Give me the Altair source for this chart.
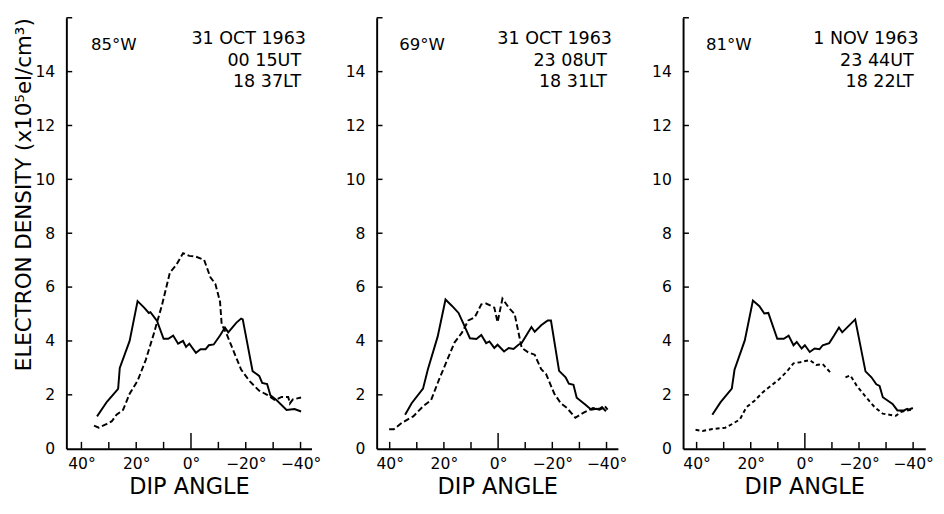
import altair as alt
import pandas as pd

# ---------------- data ----------------
# Panel 1: 85°W, 31 OCT 1963
P1_SOLID_ANGLE = [34.3, 30.7, 26.6, 26.0, 22.4, 19.5, 17.1, 15.4, 14.8, 12.4, 10.0, 8.3, 6.5, 4.7, 2.9, 1.8, 0.6, -1.8, -3.5, -5.3,
                  -6.5, -8.3, -10.6, -12.4, -13.6, -16.6, -18.3, -18.9, -22.5, -24.9, -26.0, -27.8, -29.0, -31.3, -34.9, -37.8, -40.2]
P1_SOLID_DENS = [1.2, 1.74, 2.22, 3.0, 4.0, 5.48, 5.24, 5.04, 5.07, 4.74, 4.08, 4.08, 4.2, 3.9, 4.0, 3.78, 3.9, 3.56, 3.69, 3.69,
                 3.84, 3.87, 4.2, 4.5, 4.32, 4.68, 4.83, 4.8, 2.88, 2.7, 2.44, 2.4, 1.98, 1.8, 1.44, 1.47, 1.38]
P1_DASH_ANGLE = [35.4, 33.7, 30.7, 28.9, 27.2, 24.8, 22.4, 19.5, 16.5, 13.6, 10.6, 7.7, 5.3, 2.9, 0.6, -1.8, -4.8, -7.1, -8.9, -10.6,
                 -11.2, -13.0, -15.4, -18.3, -21.3, -24.8, -27.8, -30.7, -33.1, -35.5, -36.1, -37.2, -40.2]
P1_DASH_DENS = [0.86, 0.78, 0.92, 1.02, 1.26, 1.44, 2.04, 2.52, 3.3, 4.26, 5.33, 6.54, 6.83, 7.26, 7.16, 7.13, 7.01, 6.36, 6.12, 5.46,
                4.62, 4.26, 3.66, 2.94, 2.52, 2.16, 2.0, 1.8, 1.92, 1.92, 1.68, 1.83, 1.9]
P1_DASH_SEG = [0] * 33

# Panel 2: 69°W, 31 OCT 1963
P2_SOLID_ANGLE = [34.3, 31.9, 27.7, 25.9, 22.3, 19.4, 17.0, 14.6, 12.8, 10.4, 8.0, 6.2, 4.4, 3.2, 1.4, 0.2, -2.2, -3.9, -5.7, -7.5,
                  -8.7, -10.5, -12.3, -13.5, -15.9, -18.3, -19.5, -22.5, -24.9, -26.1, -27.8, -29.0, -32.0, -34.4, -36.2, -37.4, -38.6, -39.8]
P2_SOLID_DENS = [1.26, 1.69, 2.23, 2.95, 4.16, 5.54, 5.3, 5.04, 4.64, 4.1, 4.07, 4.22, 3.92, 3.98, 3.74, 3.86, 3.61, 3.74, 3.7, 3.86,
                 3.92, 4.22, 4.52, 4.34, 4.58, 4.76, 4.76, 2.89, 2.65, 2.41, 2.37, 1.89, 1.65, 1.45, 1.48, 1.45, 1.51, 1.39]
P2_DASH_ANGLE = [40.2, 38.5, 35.5, 31.3, 27.7, 24.7, 21.7, 18.7, 16.1, 13.4, 11.0, 8.6, 6.2, 4.4, 1.4, 0.2, -1.6, -3.9, -6.1, -8.7,
                 -11.1, -13.5, -15.9, -17.7, -20.7, -23.1, -25.4, -28.5, -31.4, -35.0, -37.4, -39.2, -40.4]
P2_DASH_DENS = [0.72, 0.72, 0.96, 1.2, 1.57, 1.81, 2.59, 3.31, 3.94, 4.3, 4.76, 4.88, 5.36, 5.39, 5.24, 4.7, 5.57, 5.24, 5.0, 3.74,
                3.58, 3.49, 2.95, 2.77, 2.05, 1.69, 1.51, 1.15, 1.33, 1.51, 1.48, 1.6, 1.45]
P2_DASH_SEG = [0] * 33

# Panel 3: 81°W, 1 NOV 1963
P3_SOLID_ANGLE = [34.2, 31.2, 27.0, 26.0, 22.2, 19.2, 16.8, 15.0, 13.5, 10.2, 7.8, 6.0, 4.2, 3.0, 1.2, 0.0, -1.8, -3.6, -5.4, -6.6,
                  -9.0, -10.8, -12.6, -13.8, -16.2, -18.6, -22.4, -24.6, -26.4, -27.6, -28.8, -32.4, -34.2, -36.6, -37.8, -38.4, -39.9]
P3_SOLID_DENS = [1.26, 1.72, 2.23, 2.93, 4.02, 5.5, 5.29, 5.02, 5.04, 4.08, 4.08, 4.2, 3.84, 3.96, 3.72, 3.84, 3.59, 3.72, 3.69, 3.84,
                 3.92, 4.2, 4.5, 4.32, 4.56, 4.8, 2.87, 2.65, 2.39, 2.33, 1.91, 1.66, 1.42, 1.42, 1.48, 1.45, 1.51]
P3_DASH_ANGLE = [40.4, 37.8, 34.2, 29.4, 26.4, 24.0, 21.6, 18.6, 15.6, 12.6, 9.6, 6.6, 4.2, 1.8, -1.8, -4.2, -6.6, -9.6,
                 -15.0, -16.8, -19.2, -22.2, -25.8, -28.8, -31.2, -33.6, -35.4, -37.8, -39.6]
P3_DASH_DENS = [0.7, 0.66, 0.73, 0.78, 0.94, 1.09, 1.54, 1.78, 2.09, 2.33, 2.57, 2.87, 3.17, 3.21, 3.29, 3.11, 3.14, 2.81,
                2.65, 2.72, 2.33, 1.96, 1.54, 1.3, 1.26, 1.22, 1.36, 1.42, 1.45]
P3_DASH_SEG = [0] * 18 + [1] * 11

LOCATIONS = ["85°W", "69°W", "81°W"]
DATES = ["31 OCT 1963", "31 OCT 1963", "1 NOV 1963"]
UT_TIMES = ["00 15UT", "23 08UT", "23 44UT"]
LT_TIMES = ["18 37LT", "18 31LT", "18 22LT"]

X_LABEL_VALUES = [40, 20, 0, -20, -40]
X_MINOR_TICKS = [40, 30, 20, 10, -10, -20, -30, -40]
X_ZERO_TICK = [0]
Y_LABEL_VALUES = [0, 2, 4, 6, 8, 10, 12, 14]
Y_TICK_VALUES = [2, 4, 6, 8, 10, 12, 14, 16]

Y_TITLE = "ELECTRON DENSITY (x10⁵el/cm³)"
X_TITLE = "DIP ANGLE"

# ---------------- layout / style ----------------
FONT = "DejaVu Sans"
PANEL_WIDTHS = [252, 248, 249]
X_DOMAINS = [[45.5, -44.0], [44.8, -44.2], [45.0, -44.5]]
HEIGHT = 443
DASHES = [[6, 3], [6, 3], [4, 3]]


def panel(i, sa, sd, da, dd, dseg, show_title):
    w = PANEL_WIDTHS[i]
    xs = alt.Scale(domain=X_DOMAINS[i], nice=False, zero=False)
    ys = alt.Scale(domain=[0, 16], nice=False, zero=False)

    x_axis = alt.Axis(values=X_LABEL_VALUES, ticks=False, grid=False, domainWidth=2, domainColor="black",
                      labelFont=FONT, labelFontSize=16, labelColor="black", labelPadding=7,
                      labelExpr="(datum.value < 0 ? '\u2212' + abs(datum.value) : datum.value) + '°'",
                      labelOverlap=False, labelFlush=False,
                      title=X_TITLE, titleFont=FONT, titleFontSize=23, titleFontWeight="normal",
                      titleColor="black", titlePadding=5)
    y_kwargs = dict(values=Y_LABEL_VALUES, ticks=False, grid=False, domainWidth=2, domainColor="black",
                    labelFont=FONT, labelFontSize=16, labelColor="black", labelPadding=12)
    if show_title:
        y_axis = alt.Axis(**y_kwargs, title=Y_TITLE, titleFont=FONT, titleFontSize=22,
                          titleFontWeight="normal", titleColor="black", titleAnchor="end", titlePadding=0)
    else:
        y_axis = alt.Axis(**y_kwargs, title=None)

    solid_df = pd.DataFrame({"angle": sa, "dens": sd})
    dash_df = pd.DataFrame({"angle": da, "dens": dd, "seg": dseg})

    solid = alt.Chart(solid_df).mark_line(color="black", strokeWidth=2).encode(
        x=alt.X("angle:Q", scale=xs, axis=x_axis),
        y=alt.Y("dens:Q", scale=ys, axis=y_axis),
    )
    dashed = alt.Chart(dash_df).mark_line(color="black", strokeWidth=2, strokeDash=DASHES[i]).encode(
        x=alt.X("angle:Q", scale=xs),
        y=alt.Y("dens:Q", scale=ys),
        detail="seg:N",
    )
    xt = alt.Chart(pd.DataFrame({"t": X_MINOR_TICKS})).mark_rule(color="black", strokeWidth=1.5).encode(
        x=alt.X("t:Q", scale=xs), y=alt.value(HEIGHT), y2=alt.value(HEIGHT - 7))
    x0 = alt.Chart(pd.DataFrame({"t": X_ZERO_TICK})).mark_rule(color="black", strokeWidth=1.5).encode(
        x=alt.X("t:Q", scale=xs), y=alt.value(HEIGHT), y2=alt.value(HEIGHT - 16))
    yt = alt.Chart(pd.DataFrame({"t": Y_TICK_VALUES})).mark_rule(color="black", strokeWidth=1.5).encode(
        y=alt.Y("t:Q", scale=ys), x=alt.value(0), x2=alt.value(6))

    loc = alt.Chart(pd.DataFrame({"a": [36.5], "d": [15.0], "s": [LOCATIONS[i]]})).mark_text(
        align="left", baseline="middle", font=FONT, fontSize=17, color="black").encode(
        x=alt.X("a:Q", scale=xs), y=alt.Y("d:Q", scale=ys), text="s:N")
    info = alt.Chart(pd.DataFrame({"a": [-42.0, -40.2, -40.2], "d": [15.2, 14.4, 13.6],
                                   "s": [DATES[i], UT_TIMES[i], LT_TIMES[i]]})).mark_text(
        align="right", baseline="middle", font=FONT, fontSize=18, color="black").encode(
        x=alt.X("a:Q", scale=xs), y=alt.Y("d:Q", scale=ys), text="s:N")

    return alt.layer(solid, dashed, xt, x0, yt, loc, info).properties(width=w, height=HEIGHT)


p1 = panel(0, P1_SOLID_ANGLE, P1_SOLID_DENS, P1_DASH_ANGLE, P1_DASH_DENS, P1_DASH_SEG, True)
p2 = panel(1, P2_SOLID_ANGLE, P2_SOLID_DENS, P2_DASH_ANGLE, P2_DASH_DENS, P2_DASH_SEG, False)
p3 = panel(2, P3_SOLID_ANGLE, P3_SOLID_DENS, P3_DASH_ANGLE, P3_DASH_DENS, P3_DASH_SEG, False)

chart = alt.hconcat(p1, p2, p3, spacing=67, bounds="flush").properties(
    padding={"left": 4, "top": 2, "right": 2, "bottom": 5},
    background="white",
).configure_view(stroke=None)

chart.save("out.html", embed_options={"renderer": "svg", "actions": False})
